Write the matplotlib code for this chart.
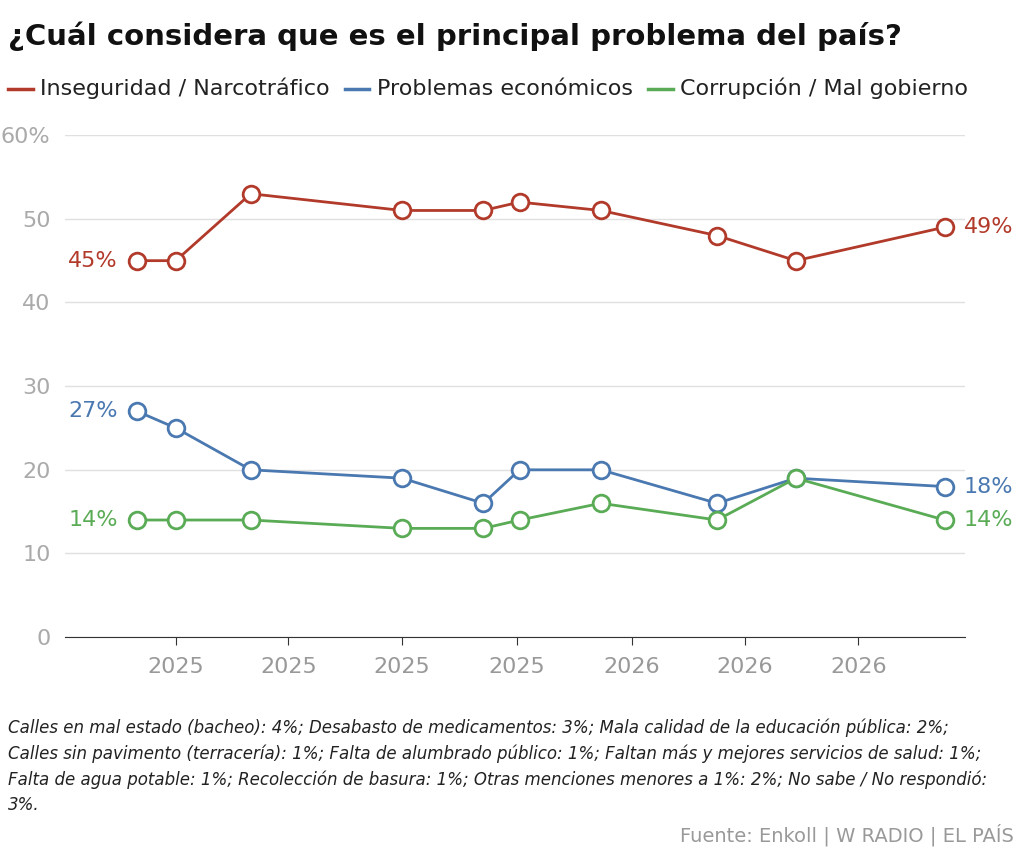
import matplotlib
matplotlib.use("Agg")
import matplotlib.pyplot as plt
import datetime as dt

dates = ["2024-12-01","2025-01-01","2025-03-02","2025-07-01","2025-09-04",
         "2025-10-03","2025-12-07","2026-03-10","2026-05-12","2026-09-08"]
inseg = [45,45,53,51,51,52,51,48,45,49]
econ  = [27,25,20,19,16,20,20,16,19,18]
corr  = [14,14,14,13,13,14,16,14,19,14]
ticks = ["2025-01-01","2025-04-01","2025-07-01","2025-10-01","2026-01-01","2026-04-01","2026-07-01"]
tick_labels = ["2025","2025","2025","2025","2026","2026","2026"]

x = [dt.datetime.strptime(d, "%Y-%m-%d") for d in dates]
xt = [dt.datetime.strptime(d, "%Y-%m-%d") for d in ticks]

red, blue, green = "#b23a2a", "#4a78b0", "#5aab55"
fig = plt.figure(figsize=(10.24, 8.61), dpi=100)
ax = fig.add_axes([0.063, 0.26, 0.879, 0.583])
for ys, c in [(inseg, red), (econ, blue), (corr, green)]:
    ax.plot(x, ys, color=c, lw=2, marker="o", ms=12, mfc="white", mec=c, mew=2, zorder=3)
ax.set_ylim(0, 60)
ax.set_xlim(dt.datetime(2024, 10, 4), dt.datetime(2026, 9, 24))
ax.set_yticks(range(0, 61, 10))
ax.set_yticklabels(["0","10","20","30","40","50","60%"])
ax.set_xticks(xt)
ax.set_xticklabels(tick_labels)
ax.grid(axis="y", color="#e0e0e0", lw=1)
ax.set_axisbelow(True)
for s in ["top", "right", "left"]:
    ax.spines[s].set_visible(False)
ax.spines["bottom"].set_color("#333333")
ax.tick_params(axis="y", length=0, labelsize=16, labelcolor="#aaaaaa", pad=10)
ax.tick_params(axis="x", length=6, color="#333333", labelsize=16, labelcolor="#999999", pad=8)

for ys, c in [(inseg, red), (econ, blue), (corr, green)]:
    ax.annotate(f"{ys[0]}%", (x[0], ys[0]), xytext=(-14, 0), textcoords="offset points",
                ha="right", va="center", color=c, fontsize=16)
    ax.annotate(f"{ys[-1]}%", (x[-1], ys[-1]), xytext=(14, 0), textcoords="offset points",
                ha="left", va="center", color=c, fontsize=16)

fig.text(0.008, 0.958, "¿Cuál considera que es el principal problema del país?",
         fontsize=21, fontweight="bold", color="#111111", va="center")
lx = 0.008
for lab, c in [("Inseguridad / Narcotráfico", red), ("Problemas económicos", blue),
               ("Corrupción / Mal gobierno", green)]:
    fig.lines.append(plt.Line2D([lx, lx + 0.024], [0.897, 0.897], color=c, lw=2.5,
                                transform=fig.transFigure))
    t = fig.text(lx + 0.031, 0.897, lab, fontsize=16, color="#222222", va="center")
    fig.canvas.draw()
    bb = t.get_window_extent()
    lx = bb.x1 / 1024 + 0.015

note = ("Calles en mal estado (bacheo): 4%; Desabasto de medicamentos: 3%; Mala calidad de la educación pública: 2%;\n"
        "Calles sin pavimento (terracería): 1%; Falta de alumbrado público: 1%; Faltan más y mejores servicios de salud: 1%;\n"
        "Falta de agua potable: 1%; Recolección de basura: 1%; Otras menciones menores a 1%: 2%; No sabe / No respondió:\n"
        "3%.")
fig.text(0.008, 0.165, note, fontsize=12, style="italic", color="#222222", va="top", linespacing=1.5)
fig.text(0.99, 0.03, "Fuente: Enkoll | W RADIO | EL PAÍS", fontsize=14, color="#999999",
         ha="right", va="center")
fig.savefig("out.png", dpi=100, facecolor="white")
